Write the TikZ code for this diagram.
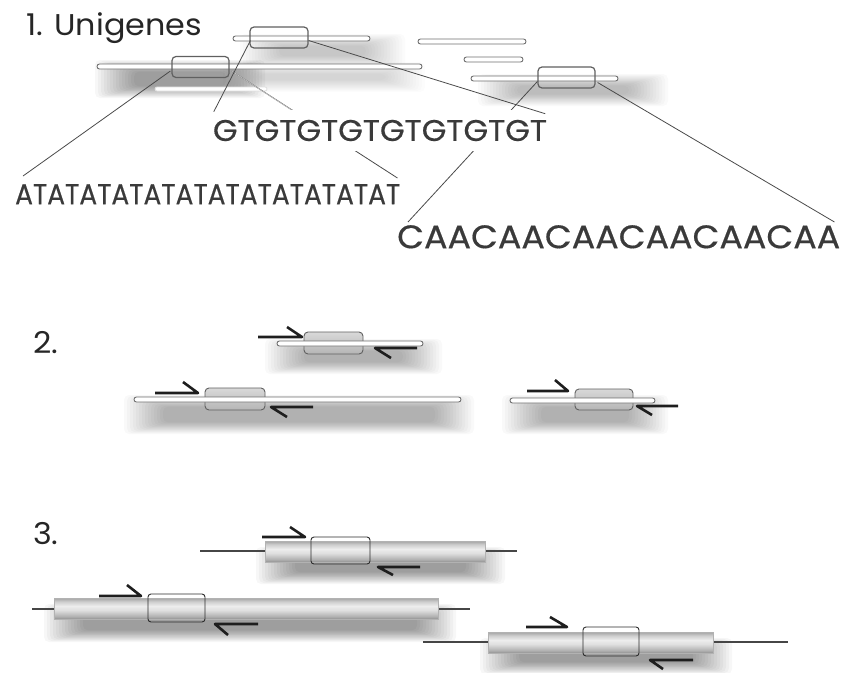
\documentclass[tikz,border=0pt]{standalone}
\usepackage{fontspec}
\setmainfont{Poppins}
\newfontfamily\seqfont{Poppins}[FakeBold=0.5]
\usepackage{graphicx}
\usetikzlibrary{calc}
\definecolor{seqc}{HTML}{3A3A3A}
\definecolor{labc}{HTML}{262626}
\definecolor{linec}{HTML}{4A4A4A}
\definecolor{barc}{HTML}{707070}
\definecolor{boxc}{HTML}{606060}
\definecolor{primc}{HTML}{1E1E1E}
\pgfdeclareverticalshading{cylshade}{100bp}{color(0bp)=(gray!85); color(25bp)=(gray!85); color(31bp)=(gray!62); color(46bp)=(gray!25); color(56bp)=(gray!14); color(67bp)=(gray!40); color(75bp)=(gray!72); color(100bp)=(gray!72)}
\pgfdeclareverticalshading{boxshade}{100bp}{color(0bp)=(gray!58); color(25bp)=(gray!58); color(75bp)=(gray!30); color(100bp)=(gray!30)}
\newcommand\shadowblob[5]{%
  \foreach \k in {0,...,13}{%
    \fill[black,opacity=#5,rounded corners=5pt] ({#1+\k*3},{#2+\k*0.9}) rectangle ({#3-\k*3},{#4-\k*0.9});}}
\tikzset{
  bar/.style={draw=barc, line width=0.9pt, fill=white, rounded corners=2.5pt},
  faintbar/.style={draw=gray!25, line width=0.8pt, fill=white, rounded corners=2pt},
  ubox/.style={draw=boxc, line width=1.2pt, rounded corners=4pt, minimum width=57pt, minimum height=21pt, inner sep=0pt},
  pbox/.style={draw=boxc, line width=0.9pt, rounded corners=4pt, minimum width=59pt, minimum height=22pt, inner sep=0pt, shading=boxshade},
  cbox/.style={draw=gray!35!black, line width=0.9pt, rounded corners=3pt, minimum width=58pt, minimum height=28pt, inner sep=0pt},
  conn/.style={draw=linec, line width=0.8pt},
  fconn/.style={draw=gray!50, line width=0.8pt},
  primer/.style={draw=primc, line width=2.6pt, line join=round},
  rod/.style={draw=gray!55!black, line width=1.6pt},
  cyl/.style={draw=gray!60, line width=0.5pt, shading=cylshade},
  seq/.style={inner sep=0pt, text=seqc, font=\seqfont},
  lab/.style={inner sep=0pt, text=labc, font=\fontsize{30}{33}\selectfont},
}
\begin{document}
\begin{tikzpicture}[x=1pt,y=-1pt]
\fill[white] (0,0) rectangle (842,672);
\useasboundingbox (0,0) rectangle (842,672);

% ---------- shadows ----------
\shadowblob{95}{60}{265}{98}{0.03}
\shadowblob{220}{62}{425}{92}{0.01}
\shadowblob{240}{34}{405}{68}{0.014}
\shadowblob{478}{74}{668}{106}{0.02}
\shadowblob{265}{339}{442}{374}{0.025}
\shadowblob{124}{395}{474}{434}{0.025}
\shadowblob{502}{395}{668}{434}{0.025}
\shadowblob{256}{547}{505}{584}{0.03}
\shadowblob{44}{604}{456}{642}{0.03}
\shadowblob{480}{638}{732}{674}{0.03}

% ---------- section 1 ----------
\node[lab, anchor=base west] (t1) at (26,35) {\scalebox{1.06}[1]{1. Unigenes}};

\path[faintbar] (155,87) rectangle (267,91);
\path[bar] (97,64) rectangle (422,69);
\path[bar] (233,36) rectangle (370,41);
\path[bar] (418,39) rectangle (526,44);
\path[bar] (464,57) rectangle (523,62);
\path[bar] (471,76) rectangle (618,81);

\node[ubox] (boxA) at (200.5,67) {};
\node[ubox, minimum width=58pt] (boxB) at (279,37.5) {};
\node[ubox] (boxE) at (566.5,77.5) {};

\node[seq, anchor=north west] (at) at (15,184) {\resizebox{385pt}{20pt}{ATATATATATATATATATATATAT}};
\node[seq, anchor=north west] (ca) at (397,225) {\resizebox{443pt}{23pt}{CAACAACAACAACAACAA}};

% connectors partly hidden behind the GT text
\draw[conn] ($(boxA.east)+(2,4)$) -- ($(at.north east)+(-3,-6)$);
\draw[fconn] ($(boxA.east)+(2,4)$) -- ($(boxA.east)!0.45!(at.north east)$);
\draw[conn] ($(boxE.west)+(0,4)$) -- ($(ca.north west)+(11,-3)$);

\node[seq, fill=white, inner xsep=3pt, inner ysep=10pt] (gt) at (380,130.5) {\resizebox{334pt}{21pt}{GTGTGTGTGTGTGTGT}};

\draw[conn] ($(boxA.west)+(-1,4)$) -- ($(at.north west)+(8,-8)$);
\draw[conn] ($(boxB.west)+(1,3)$) -- ($(gt.north west)+(4,2)$);
\draw[conn] ($(boxB.east)+(0,3)$) -- ($(gt.north east)+(-5,4)$);
\draw[conn] ($(boxE.east)+(2,5)$) -- ($(ca.north east)+(-6,-3)$);

% ---------- section 2 ----------
\node[lab, anchor=base west] (t2) at (33,353) {\scalebox{1.06}[1]{2.}};

\node[pbox] (p2a) at (333.5,343) {};
\node[pbox, minimum width=60pt] (p2b) at (235,399) {};
\node[pbox, minimum width=58pt, minimum height=21pt] (p2c) at (604,399.5) {};

\path[bar] (277,341) rectangle (423,346);
\path[bar] (134,397) rectangle (461,402);
\path[bar] (510,398) rectangle (655,403);

\draw[primer] (258,337) -- (302,337) -- (287,327);
\draw[primer] (417,348) -- (375,348) -- (391,358);
\draw[primer] (155,393) -- (198,393) -- (183,382);
\draw[primer] (313,407) -- (271,407) -- (287,417);
\draw[primer] (527,391) -- (568,391) -- (555,380);
\draw[primer] (678,406) -- (637,406) -- (652,415);

% ---------- section 3 ----------
\node[lab, anchor=base west] (t3) at (33,544) {\scalebox{1.06}[1]{3.}};

\draw[rod] (200,551) -- (517,551);
\draw[rod] (32,609) -- (470,609);
\draw[rod] (423,642) -- (788,642);

\path[cyl] (265,541) rectangle (485,562);
\path[cyl] (54,598) rectangle (438,619);
\path[cyl] (488,632) rectangle (713,653);

\node[cbox, minimum width=59pt, minimum height=27pt] (c3a) at (340.5,550.5) {};
\node[cbox, minimum width=57pt] (c3b) at (176.5,608) {};
\node[cbox, minimum width=56pt, minimum height=29pt] (c3c) at (611,641.5) {};

\draw[primer] (262,537) -- (305,537) -- (290,527);
\draw[primer] (420,567) -- (378,567) -- (393,575);
\draw[primer] (99,596) -- (141,596) -- (127,585);
\draw[primer] (258,624) -- (215,624) -- (228,635);
\draw[primer] (526,627) -- (567,627) -- (550,617);
\draw[primer] (693,660) -- (650,660) -- (663,669);
\end{tikzpicture}
\end{document}
